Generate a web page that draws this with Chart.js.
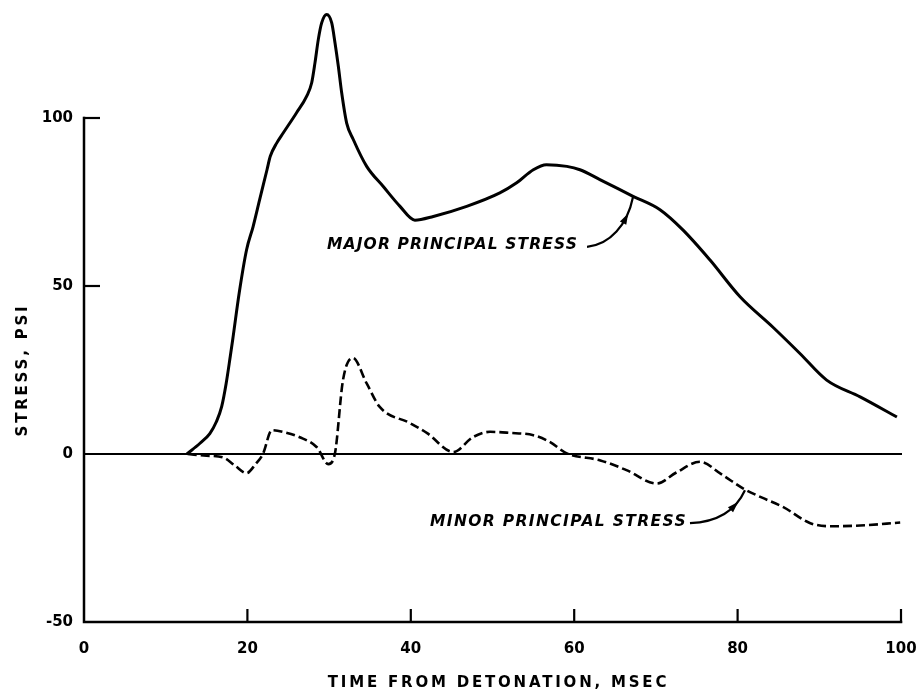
<!DOCTYPE html>
<html><head><meta charset="utf-8">
<script src="https://cdn.jsdelivr.net/npm/chart.js@4.4.1/dist/chart.umd.min.js"></script>
<style>html,body{margin:0;padding:0;background:#fff;} canvas{display:block;}</style>
</head><body>
<canvas id="c" width="921" height="697"></canvas>
<script>
// ---- data ----
const majorTime   = [12.6, 14.2, 15.4, 16.2, 16.85, 17.4, 17.9, 18.2, 19.0, 19.9, 20.7, 21.5, 22.4, 22.8, 23.6, 24.4, 26.0, 27.26, 27.87, 28.27, 28.68, 29.09, 29.71, 30.32, 30.72, 31.13, 31.54, 32.15, 32.96, 34.6, 36.63, 38.68, 40.5, 42.76, 46.84, 50.9, 52.96, 55.0, 56.6, 59.1, 60.7, 63.2, 67.2, 70.5, 73.3, 76.6, 80.3, 84.3, 87.6, 90.9, 95.0, 99.5];
const majorStress = [0, 3.2, 6.1, 9.6, 14.1, 21, 29, 34, 48, 60.8, 67.7, 75.7, 84.6, 88.6, 92.6, 95.6, 101.5, 106.5, 110.5, 116.4, 123.4, 128.3, 130.8, 128.3, 122.4, 115.4, 107.5, 98.5, 93.6, 85.6, 79.6, 73.7, 69.6, 70.7, 73.7, 77.7, 80.7, 84.6, 86.1, 85.6, 84.6, 81.6, 76.7, 72.7, 66.7, 57.8, 46.8, 37.8, 30, 22, 17, 11];
const minorTime   = [12.7, 15.0, 17.0, 18.5, 19.9, 21.0, 21.9, 23.0, 24.5, 26.4, 28.5, 29.9, 30.7, 31.7, 32.9, 34.6, 36.2, 39.9, 42.0, 45.2, 47.6, 49.7, 52.0, 55.0, 57.0, 59.1, 63.2, 66.4, 70.1, 72.5, 75.4, 78.0, 80.7, 83.0, 85.6, 88.9, 91.7, 95.0, 99.9];
const minorStress = [0, -0.5, -1, -3.5, -5.7, -3, 0, 7.1, 6.5, 5, 2, -3, 0, 22, 28.6, 21, 14, 9.2, 6.2, 0.6, 5, 6.6, 6.3, 5.6, 3.6, 0.2, -1.9, -4.8, -8.8, -5.5, -2.3, -6, -10.3, -13, -15.8, -20.6, -21.5, -21.3, -20.4];
const xTickValues = [0, 20, 40, 60, 80, 100];
const yTickValues = [-50, 0, 50, 100];
const xTitle = 'TIME FROM DETONATION, MSEC';
const yTitle = 'STRESS, PSI';
const majorLabel = 'MAJOR PRINCIPAL STRESS';
const minorLabel = 'MINOR PRINCIPAL STRESS';

// ---- annotation placement (data coordinates) ----
const annotations = [
  { text: majorLabel, x0: 29.74, x1: 60.47, y: 62.3,
    leader: [[61.57, 61.67], [64.38, 62.27], [66.5, 68.2], [67.2, 76.5]] },
  { text: minorLabel, x0: 42.35, x1: 73.8, y: -20.3,
    leader: [[74.17, -20.6], [77.23, -20.3], [79.68, -17.3], [80.9, -10.8]] }
];

const FONT = '"DejaVu Sans", "Liberation Sans", sans-serif';

// letter spacing / offset support for scale titles
if (Chart.Scale && Chart.Scale.prototype.drawTitle) {
  const origTitle = Chart.Scale.prototype.drawTitle;
  Chart.Scale.prototype.drawTitle = function () {
    const ctx = this.ctx;
    const has = 'letterSpacing' in ctx;
    const prev = has ? ctx.letterSpacing : null;
    const ls = this.options.title.letterSpacing;
    const ox = this.options.title.offsetX || 0;
    ctx.save();
    ctx.translate(ox, 0);
    if (has && ls != null) ctx.letterSpacing = ls + 'px';
    origTitle.apply(this, arguments);
    if (has) ctx.letterSpacing = prev;
    ctx.restore();
  };
}

const framePlugin = {
  id: 'frame',
  beforeDraw(chart) {
    const ctx = chart.ctx;
    ctx.save();
    ctx.fillStyle = '#fff';
    ctx.fillRect(0, 0, chart.width, chart.height);
    ctx.restore();
  },
  beforeDatasetsDraw(chart) {
    const { ctx, scales: { x, y } } = chart;
    const left = x.getPixelForValue(x.min), right = x.getPixelForValue(x.max);
    const top = y.getPixelForValue(y.max), bottom = y.getPixelForValue(y.min);
    ctx.save();
    ctx.strokeStyle = '#000';
    ctx.lineCap = 'square';
    ctx.lineWidth = 2;
    const y0 = y.getPixelForValue(0);
    ctx.beginPath(); ctx.moveTo(left, y0); ctx.lineTo(right, y0); ctx.stroke();
    ctx.lineWidth = 2.5;
    ctx.beginPath();
    ctx.moveTo(left, top); ctx.lineTo(left, bottom); ctx.lineTo(right, bottom);
    ctx.stroke();
    ctx.lineWidth = 2.2;
    ctx.lineCap = 'butt';
    yTickValues.forEach(v => {
      if (v === y.min || v === 0) return;
      const py = y.getPixelForValue(v);
      ctx.beginPath(); ctx.moveTo(left - 1, py); ctx.lineTo(left + 16, py); ctx.stroke();
    });
    xTickValues.forEach(v => {
      if (v === x.min) return;
      const px = x.getPixelForValue(v);
      ctx.beginPath(); ctx.moveTo(px, bottom + 1); ctx.lineTo(px, bottom - 13); ctx.stroke();
    });
    ctx.restore();
  },
  afterDatasetsDraw(chart) {
    const { ctx, scales: { x, y } } = chart;
    ctx.save();
    ctx.fillStyle = '#000';
    ctx.strokeStyle = '#000';
    annotations.forEach(a => {
      const px0 = x.getPixelForValue(a.x0), px1 = x.getPixelForValue(a.x1);
      const py = y.getPixelForValue(a.y);
      ctx.font = 'italic bold 15.5px ' + FONT;
      const has = 'letterSpacing' in ctx;
      if (has) ctx.letterSpacing = '0px';
      const w = ctx.measureText(a.text).width;
      const n = a.text.length;
      if (has) ctx.letterSpacing = Math.max(0, (px1 - px0 - w) / n) + 'px';
      ctx.textAlign = 'left';
      ctx.textBaseline = 'middle';
      ctx.fillText(a.text, px0, py);
      if (has) ctx.letterSpacing = '0px';
      const p = a.leader.map(q => [x.getPixelForValue(q[0]), y.getPixelForValue(q[1])]);
      ctx.lineWidth = 2.2;
      ctx.beginPath();
      ctx.moveTo(p[0][0], p[0][1]);
      ctx.bezierCurveTo(p[1][0], p[1][1], p[2][0], p[2][1], p[3][0], p[3][1]);
      ctx.stroke();
      const t = 0.72;
      const bz = (i) => {
        const mt = 1 - t;
        return mt*mt*mt*p[0][i] + 3*mt*mt*t*p[1][i] + 3*mt*t*t*p[2][i] + t*t*t*p[3][i];
      };
      const dz = (i) => {
        const mt = 1 - t;
        return 3*mt*mt*(p[1][i]-p[0][i]) + 6*mt*t*(p[2][i]-p[1][i]) + 3*t*t*(p[3][i]-p[2][i]);
      };
      const cx = bz(0), cy = bz(1);
      let dx = dz(0), dy = dz(1);
      const len = Math.hypot(dx, dy); dx /= len; dy /= len;
      const L = 11, W = 3.6;
      ctx.beginPath();
      ctx.moveTo(cx + dx * L / 2, cy + dy * L / 2);
      ctx.lineTo(cx - dx * L / 2 - dy * W, cy - dy * L / 2 + dx * W);
      ctx.lineTo(cx - dx * L / 2 + dy * W, cy - dy * L / 2 - dx * W);
      ctx.closePath();
      ctx.fill();
    });
    ctx.restore();
  }
};

new Chart(document.getElementById('c'), {
  type: 'line',
  data: {
    datasets: [
      { label: majorLabel,
        data: majorTime.map((t, i) => ({ x: t, y: majorStress[i] })),
        borderColor: '#000', borderWidth: 3, pointRadius: 0, clip: false,
        cubicInterpolationMode: 'monotone', fill: false },
      { label: minorLabel,
        data: minorTime.map((t, i) => ({ x: t, y: minorStress[i] })),
        borderColor: '#000', borderWidth: 2.6, borderDash: [9, 4], pointRadius: 0, clip: false,
        cubicInterpolationMode: 'monotone', fill: false }
    ]
  },
  options: {
    responsive: false,
    devicePixelRatio: 1,
    animation: false,
    events: [],
    layout: { padding: { left: 0, top: 118, right: 20, bottom: 0 } },
    plugins: { legend: { display: false }, tooltip: { enabled: false } },
    scales: {
      x: {
        type: 'linear', min: 0, max: 100,
        afterBuildTicks: s => { s.ticks = xTickValues.map(v => ({ value: v })); },
        afterFit: s => { s.height = 75; s.paddingLeft = 0; s.paddingRight = 0; },
        grid: { display: false, drawTicks: false },
        border: { display: false },
        ticks: { color: '#000', padding: 18, maxRotation: 0, font: { family: FONT, size: 15, weight: 'bold' } },
        title: { display: true, text: xTitle, color: '#000', letterSpacing: 2.8, offsetX: 6,
                 padding: { top: 0, bottom: 5 }, font: { family: FONT, size: 15, weight: 'bold' } }
      },
      y: {
        type: 'linear', min: -50, max: 100,
        afterBuildTicks: s => { s.ticks = yTickValues.map(v => ({ value: v })); },
        afterFit: s => { s.width = 84; s.paddingTop = 0; s.paddingBottom = 0; },
        grid: { display: false, drawTicks: false },
        border: { display: false },
        ticks: { color: '#000', padding: 11, font: { family: FONT, size: 15, weight: 'bold' } },
        title: { display: true, text: yTitle, color: '#000', letterSpacing: 2.8,
                 padding: { top: 14, bottom: 0 }, font: { family: FONT, size: 15, weight: 'bold' } }
      }
    }
  },
  plugins: [framePlugin]
});
</script>
</body></html>
